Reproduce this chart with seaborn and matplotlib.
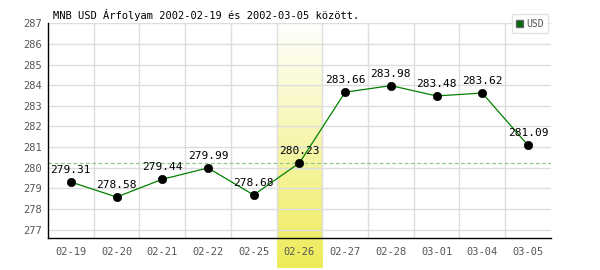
import numpy as np
import pandas as pd
import matplotlib
matplotlib.use("Agg")
import matplotlib.pyplot as plt
import seaborn as sns
from matplotlib.colors import LinearSegmentedColormap
from matplotlib.patches import Rectangle

dates = ["02-19", "02-20", "02-21", "02-22", "02-25", "02-26", "02-27", "02-28", "03-01", "03-04", "03-05"]
usd = [279.31, 278.58, 279.44, 279.99, 278.68, 280.23, 283.66, 283.98, 283.48, 283.62, 281.09]
highlight_date = "02-26"
ref_value = 280.23
yticks = [277, 278, 279, 280, 281, 282, 283, 284, 285, 286, 287]
title = "MNB USD Árfolyam 2002-02-19 és 2002-03-05 között."

sns.set_theme(style="white")
plt.rcParams['font.family'] = ['DejaVu Sans Mono']

df = pd.DataFrame({"date": dates, "USD": usd, "x": np.arange(len(dates))})

fig = plt.figure(figsize=(6, 2.7), dpi=100)
ax = fig.add_axes([0.08, 0.1174, 0.838, 0.7963])

ylo, yhi = 276.58, 287.0
px_per_unit = 20.64

# highlight gradient
hi = dates.index(highlight_date)
grad = np.linspace(0, 1, 256).reshape(-1, 1)
cmap = LinearSegmentedColormap.from_list("hl", ["#ffffff", "#eeec58"])
ybot = ylo - (30 / px_per_unit)
ax.imshow(grad, extent=(hi - 0.5, hi + 0.5, ybot, yhi), origin="upper", cmap=cmap,
          aspect="auto", clip_on=False, zorder=0)
ax.set_xlim(-0.5, len(dates) - 0.5)
ax.set_ylim(ylo, yhi)

# grid
for y in yticks:
    ax.axhline(y, color="#dddddd", lw=1, zorder=1)
for xb in np.arange(0.5, len(dates) - 0.5, 1):
    ax.axvline(xb, color="#dddddd", lw=1, zorder=1)

ax.axhline(ref_value, color="#8fc88f", lw=0.9, ls=(0, (3, 2)), zorder=2)

sns.lineplot(data=df, x="x", y="USD", ax=ax, color="#008000", lw=0.9, zorder=3, legend=False)
sns.scatterplot(data=df, x="x", y="USD", ax=ax, color="black", s=36, edgecolor="black", zorder=4, legend=False)

for xi, v in zip(df["x"], usd):
    ax.annotate(f"{v:.2f}", (xi, v), xytext=(0, 5), textcoords="offset points",
                ha="center", va="bottom", fontsize=8, color="black", zorder=5)

ax.set_xticks(df["x"])
ax.set_xticklabels(dates)
ax.set_yticks(yticks)
ax.tick_params(axis="both", labelsize=7.5, colors="#555555", length=0, pad=6)
ax.tick_params(axis="y", pad=4)
ax.set_xlabel("")
ax.set_ylabel("")

for s in ["top", "right"]:
    ax.spines[s].set_visible(False)
for s in ["left", "bottom"]:
    ax.spines[s].set_color("black")
    ax.spines[s].set_linewidth(1)

fig.text(0.088, 0.944, title, fontsize=7.5, color="black", ha="left", va="center")

leg = ax.legend(handles=[Rectangle((0, 0), 1, 1, fc="#006600", ec="#666666")], labels=["USD"],
                loc="upper right", bbox_to_anchor=(1.004, 1.065), fontsize=7, frameon=True,
                handlelength=0.7, handleheight=0.7, handletextpad=0.3, borderpad=0.45,
                fancybox=False)
leg.get_frame().set_edgecolor("#dddddd")
for t in leg.get_texts():
    t.set_color("#555555")

fig.savefig("out.png", dpi=100)
